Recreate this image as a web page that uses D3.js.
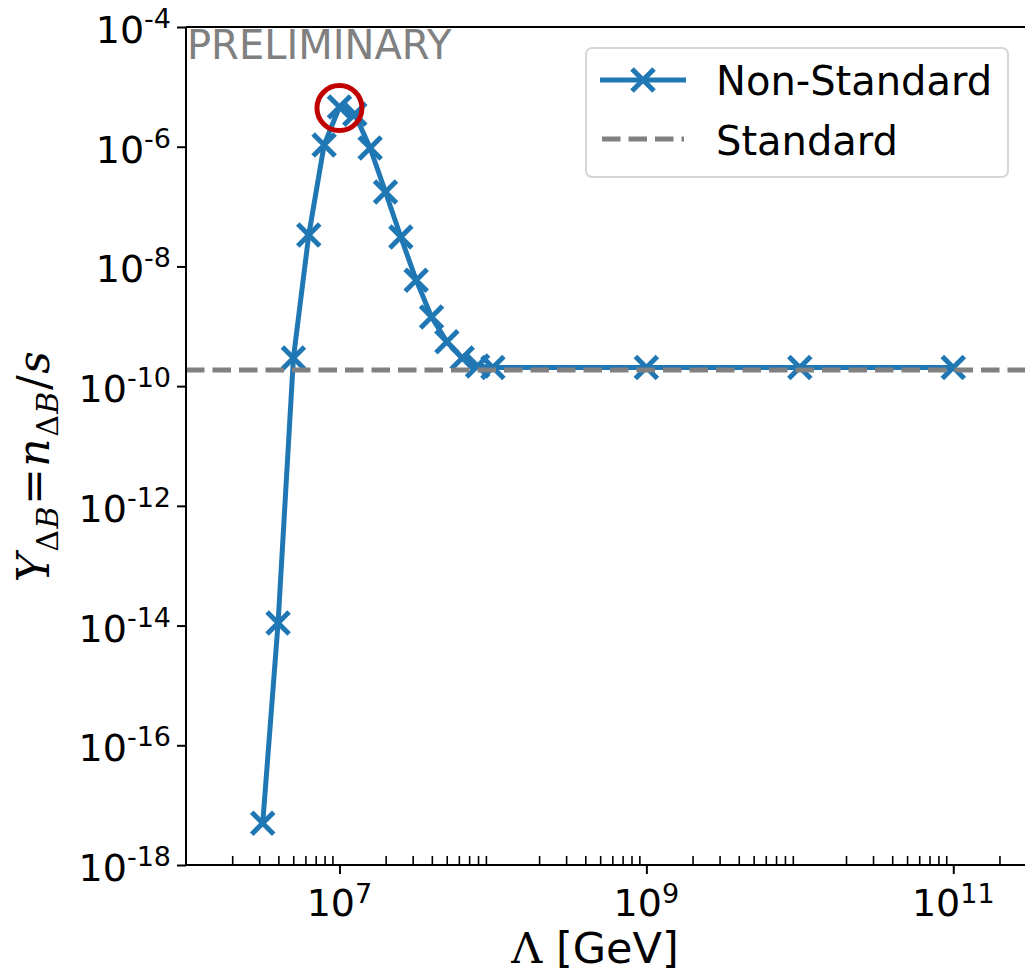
<!DOCTYPE html>
<html>
<head>
<meta charset="utf-8">
<script src="https://cdn.jsdelivr.net/npm/d3@7"></script>
<style>
  html, body { margin: 0; padding: 0; background: #fff; }
  svg { display: block; font-family: "DejaVu Sans", sans-serif; }
</style>
</head>
<body>
<svg id="chart" width="1025" height="973"></svg>
<script>
// Cutoff scale Lambda [GeV] (log-spaced scan, then decades)
const lambdaGeV = [
  10 ** 6.5, 10 ** 6.6, 10 ** 6.7, 10 ** 6.8, 10 ** 6.9, 10 ** 7.0,
  10 ** 7.1, 10 ** 7.2, 10 ** 7.3, 10 ** 7.4, 10 ** 7.5, 10 ** 7.6,
  10 ** 7.7, 10 ** 7.8, 10 ** 7.9, 10 ** 8.0, 1e9, 1e10, 1e11
];
// Baryon asymmetry Y_dB = n_dB / s for the non-standard cosmology
const yNonStandard = [
  5.0e-18, 1.1e-14, 2.95e-10, 3.35e-8, 1.07e-6, 4.6e-6,
  3.5e-6, 9.5e-7, 1.75e-7, 3.1e-8, 5.9e-9, 1.43e-9,
  5.5e-10, 2.95e-10, 2.17e-10, 2.05e-10, 2.05e-10, 2.05e-10, 2.05e-10
];
// Standard-cosmology reference value
const yStandard = 1.86e-10;

const xMajorTicks = [1e7, 1e9, 1e11];
const yMajorTicks = [1e-18, 1e-16, 1e-14, 1e-12, 1e-10, 1e-8, 1e-6, 1e-4];
const seriesNames = ["Non-Standard", "Standard"];
const watermark = "PRELIMINARY";

const svg = d3.select("#chart");
const plot = { left: 186, top: 27, right: 1030, bottom: 865 };

const x = d3.scaleLog().domain([1e6, 10 ** 11.5]).range([plot.left, plot.right]);
const y = d3.scaleLog().domain([1e-18, 1e-4]).range([plot.bottom, plot.top]);

const blue = "#1f77b4";
const grey = "#808080";
const serif = "'DejaVu Serif', 'Liberation Serif', serif";

// Clip drawing to the axes box
svg.append("defs").append("clipPath").attr("id", "plotclip")
  .append("rect").attr("x", plot.left).attr("y", plot.top)
  .attr("width", plot.right - plot.left).attr("height", plot.bottom - plot.top);

// Watermark
svg.append("text")
  .attr("x", plot.left + 1).attr("y", plot.top + 32)
  .attr("font-size", 40).attr("fill", grey)
  .text(watermark);

const g = svg.append("g").attr("clip-path", "url(#plotclip)");

const pts = lambdaGeV.map((l, i) => [l, yNonStandard[i]]);

// Non-standard curve
g.append("path")
  .datum(pts)
  .attr("fill", "none").attr("stroke", blue).attr("stroke-width", 5)
  .attr("stroke-linejoin", "round")
  .attr("d", d3.line().x(d => x(d[0])).y(d => y(d[1])));

// X markers
const ms = 11;
const xMark = (cx, cy) =>
  `M${cx - ms},${cy - ms}L${cx + ms},${cy + ms}M${cx - ms},${cy + ms}L${cx + ms},${cy - ms}`;
g.selectAll("path.mk").data(pts).join("path")
  .attr("class", "mk")
  .attr("fill", "none").attr("stroke", blue).attr("stroke-width", 5)
  .attr("d", d => xMark(x(d[0]), y(d[1])));

// Standard reference line
g.append("line")
  .attr("x1", plot.left).attr("x2", plot.right)
  .attr("y1", y(yStandard)).attr("y2", y(yStandard))
  .attr("stroke", grey).attr("stroke-width", 5)
  .attr("stroke-dasharray", "18.5 8");

// Highlight the maximum
const peak = pts.reduce((a, b) => (b[1] > a[1] ? b : a));
svg.append("circle")
  .attr("cx", x(peak[0])).attr("cy", y(peak[1]) + 1).attr("r", 22.5)
  .attr("fill", "none").attr("stroke", "#c00000").attr("stroke-width", 5);

// Spines
svg.append("line").attr("x1", plot.left).attr("x2", plot.left)
  .attr("y1", plot.top).attr("y2", plot.bottom)
  .attr("stroke", "#000").attr("stroke-width", 2);
svg.append("line").attr("x1", plot.left).attr("x2", plot.right)
  .attr("y1", plot.top).attr("y2", plot.top)
  .attr("stroke", "#000").attr("stroke-width", 2);
svg.append("line").attr("x1", plot.left - 1).attr("x2", plot.right)
  .attr("y1", plot.bottom).attr("y2", plot.bottom)
  .attr("stroke", "#000").attr("stroke-width", 2);

// X axis: major ticks outward, minor ticks inward
const xMinor = [];
for (let k = 6; k <= 11; k++) for (let m = 2; m <= 9; m++) {
  const v = m * 10 ** k;
  if (v < x.domain()[1]) xMinor.push(v);
}
const xAxisMajor = d3.axisBottom(x).tickValues(xMajorTicks).tickSize(9).tickFormat(() => "");
const xAxisMinor = d3.axisTop(x).tickValues(xMinor).tickSize(9).tickFormat(() => "");

const gxMaj = svg.append("g").attr("transform", `translate(0,${plot.bottom})`).call(xAxisMajor);
gxMaj.select(".domain").remove();
gxMaj.selectAll(".tick line").attr("stroke-width", 2);
const gxMin = svg.append("g").attr("transform", `translate(0,${plot.bottom})`).call(xAxisMinor);
gxMin.select(".domain").remove();
gxMin.selectAll(".tick line").attr("stroke-width", 1.6);

// x tick labels 10^k
xMajorTicks.forEach(v => {
  const t = svg.append("text")
    .attr("x", x(v)).attr("y", 916)
    .attr("text-anchor", "middle").attr("font-size", 38).attr("fill", "#000");
  t.append("tspan").text("10");
  t.append("tspan").attr("font-size", 27).attr("dy", -13).text(Math.round(Math.log10(v)));
});

// Y axis ticks and labels
const yAxis = d3.axisLeft(y).tickValues(yMajorTicks).tickSize(9).tickFormat(() => "");
const gy = svg.append("g").attr("transform", `translate(${plot.left},0)`).call(yAxis);
gy.select(".domain").remove();
gy.selectAll(".tick line").attr("stroke-width", 2);

yMajorTicks.forEach(v => {
  const t = svg.append("text")
    .attr("x", 171).attr("y", y(v) + 16)
    .attr("text-anchor", "end").attr("font-size", 38).attr("fill", "#000");
  t.append("tspan").text("10");
  t.append("tspan").attr("font-size", 27).attr("dy", -15)
    .text("-" + Math.abs(Math.round(Math.log10(v))));
});

// Axis titles
const xl = svg.append("text")
  .attr("x", 595).attr("y", 963).attr("text-anchor", "middle")
  .attr("font-size", 43).attr("fill", "#000");
xl.append("tspan").style("font-family", serif).text("Λ");
xl.append("tspan").text(" [GeV]");

const yl = svg.append("text")
  .attr("transform", `translate(49,466) rotate(-90)`)
  .attr("text-anchor", "middle").attr("font-size", 44).attr("fill", "#000")
  .attr("letter-spacing", 1.5)
  .style("font-family", serif);
yl.append("tspan").attr("font-style", "italic").text("Y");
yl.append("tspan").attr("font-size", 30).attr("dy", 9).text("Δ");
yl.append("tspan").attr("font-size", 30).attr("font-style", "italic").text("B");
yl.append("tspan").attr("dy", -9).text("=");
yl.append("tspan").attr("font-style", "italic").text("n");
yl.append("tspan").attr("font-size", 30).attr("dy", 9).text("Δ");
yl.append("tspan").attr("font-size", 30).attr("font-style", "italic").text("B");
yl.append("tspan").attr("dy", -9).text("/");
yl.append("tspan").attr("font-style", "italic").text("s");

// Legend
const lg = svg.append("g");
lg.append("rect")
  .attr("x", 586).attr("y", 48).attr("width", 422).attr("height", 129)
  .attr("rx", 6).attr("fill", "#fff").attr("fill-opacity", 0.8)
  .attr("stroke", "#d6d6d6").attr("stroke-width", 2);
lg.append("line").attr("x1", 600).attr("x2", 686).attr("y1", 80).attr("y2", 80)
  .attr("stroke", blue).attr("stroke-width", 5);
lg.append("path")
  .attr("d", xMark(643, 80))
  .attr("stroke", blue).attr("stroke-width", 5).attr("fill", "none");
lg.append("line").attr("x1", 602).attr("x2", 684).attr("y1", 139).attr("y2", 139)
  .attr("stroke", grey).attr("stroke-width", 5).attr("stroke-dasharray", "18.5 8");
lg.append("text").attr("x", 716).attr("y", 95).attr("font-size", 40).attr("fill", "#000").text(seriesNames[0]);
lg.append("text").attr("x", 716).attr("y", 155).attr("font-size", 40).attr("fill", "#000").text(seriesNames[1]);
</script>
</body>
</html>
